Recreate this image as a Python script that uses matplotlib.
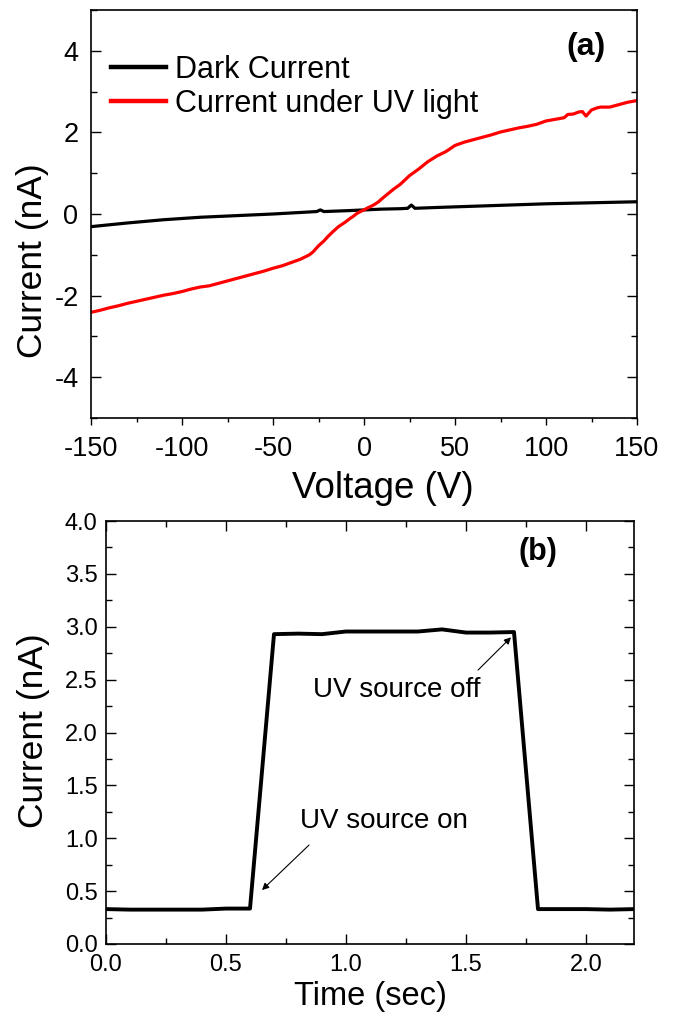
import matplotlib
matplotlib.use("Agg")
import matplotlib.pyplot as plt
from matplotlib.ticker import MultipleLocator, FormatStrFormatter

plt.rcParams['font.family'] = ['Liberation Sans', 'DejaVu Sans']
plt.rcParams['axes.unicode_minus'] = False

# ---- Panel (a) data: I-V curves ----
dark_v = [-150, -130, -110, -90, -70, -50, -30, -26, -24, -22, -10, 0, 10, 20, 24, 26, 28, 40, 60, 80, 100, 120, 140, 150]
dark_i = [-0.31, -0.22, -0.14, -0.08, -0.04, 0.0, 0.05, 0.06, 0.10, 0.06, 0.08, 0.10, 0.12, 0.13, 0.14, 0.22, 0.14, 0.16, 0.19, 0.22, 0.25, 0.27, 0.29, 0.30]

uv_v = [-150, -145, -140, -135, -130, -125, -120, -115, -110, -105, -100, -95, -90, -85, -80, -75, -70, -65,
        -60, -55, -50, -45, -40, -35, -30, -28, -25, -22, -20, -17, -14, -12, -10, -8, -6, -4, -2, 0,
        2, 4, 6, 8, 10, 13, 16, 20, 25, 30, 35, 40, 45, 50, 55, 60, 65, 70, 75, 80, 85, 90,
        95, 100, 105, 110, 112, 115, 118, 120, 122, 125, 128, 130, 135, 140, 145, 150]
uv_i = [-2.41, -2.36, -2.30, -2.25, -2.19, -2.14, -2.09, -2.04, -1.99, -1.95, -1.90, -1.84, -1.79, -1.76, -1.70, -1.64, -1.58, -1.52,
        -1.46, -1.40, -1.33, -1.27, -1.19, -1.11, -1.00, -0.93, -0.78, -0.66, -0.56, -0.43, -0.31, -0.25, -0.19, -0.12, -0.06, 0.01, 0.06, 0.10,
        0.15, 0.19, 0.24, 0.30, 0.38, 0.49, 0.60, 0.73, 0.94, 1.10, 1.28, 1.42, 1.53, 1.68, 1.76, 1.82, 1.88, 1.94, 2.01, 2.06, 2.11, 2.15,
        2.20, 2.28, 2.32, 2.36, 2.44, 2.45, 2.50, 2.51, 2.40, 2.55, 2.60, 2.62, 2.62, 2.68, 2.74, 2.78]

# ---- Panel (b) data: photoresponse ----
t = [0.0, 0.1, 0.2, 0.3, 0.4, 0.5, 0.6, 0.7, 0.8, 0.9, 1.0, 1.1, 1.2, 1.3, 1.4, 1.5, 1.6, 1.7, 1.8, 1.9, 2.0, 2.1, 2.2]
cur = [0.33, 0.325, 0.325, 0.325, 0.325, 0.335, 0.335, 2.93, 2.935, 2.93, 2.955, 2.955, 2.955, 2.955, 2.975, 2.945, 2.945, 2.95, 0.33, 0.33, 0.33, 0.325, 0.33]

W, H = 676, 1015
fig = plt.figure(figsize=(W / 100, H / 100), dpi=100)

# ---------------- (a) ----------------
axa = fig.add_axes([91/W, 1-418/H, (637-91)/W, (418-10)/H])
axa.plot(dark_v, dark_i, color='black', lw=2.3, label='Dark Current')
axa.plot(uv_v, uv_i, color='#ff0000', lw=2.3, label='Current under UV light')
axa.set_xlim(-150, 150)
axa.set_ylim(-5, 5)
axa.xaxis.set_major_locator(MultipleLocator(50))
axa.xaxis.set_minor_locator(MultipleLocator(25))
axa.yaxis.set_major_locator(MultipleLocator(2))
axa.yaxis.set_minor_locator(MultipleLocator(1))
axa.tick_params(axis='x', which='both', direction='out', top=False, labelsize=19.5, width=1.0)
axa.tick_params(axis='x', which='major', length=5, pad=8)
axa.tick_params(axis='x', which='minor', length=3)
axa.tick_params(axis='y', which='both', direction='in', left=True, right=True, labelsize=19.5, width=1.0)
axa.tick_params(axis='y', which='major', length=7, pad=9)
axa.tick_params(axis='y', which='minor', length=4)
for s in axa.spines.values():
    s.set_linewidth(1.2)
fig.text(383/W, 1-488/H, 'Voltage (V)', fontsize=26.5, ha='center', va='center')
fig.text(33/W, 1-261/H, 'Current (nA)', fontsize=25.5, ha='center', va='center', rotation=90)
leg = axa.legend(loc='upper left', bbox_to_anchor=(-0.008, 0.95), frameon=False, fontsize=22,
                 handlelength=1.8, handletextpad=0.3, labelspacing=0.12, borderaxespad=0.4)
for h in leg.get_lines():
    h.set_linewidth(3.2)
fig.text(586/W, 1-47/H, '(a)', fontsize=23, fontweight='bold', ha='center', va='center')

# ---------------- (b) ----------------
axb = fig.add_axes([106/W, 1-944/H, (634-106)/W, (944-521)/H])
axb.plot(t, cur, color='black', lw=2.8)
axb.set_xlim(0, 2.2)
axb.set_ylim(0, 4.0)
axb.xaxis.set_major_locator(MultipleLocator(0.5))
axb.xaxis.set_minor_locator(MultipleLocator(0.25))
axb.yaxis.set_major_locator(MultipleLocator(0.5))
axb.yaxis.set_minor_locator(MultipleLocator(0.25))
axb.xaxis.set_major_formatter(FormatStrFormatter('%.1f'))
axb.yaxis.set_major_formatter(FormatStrFormatter('%.1f'))
axb.tick_params(which='both', direction='in', top=True, right=True, labelsize=17, width=1.0)
axb.tick_params(which='major', length=7)
axb.tick_params(axis='x', which='major', pad=7)
axb.tick_params(axis='y', which='major', pad=6)
axb.tick_params(which='minor', length=4)
for s in axb.spines.values():
    s.set_linewidth(1.2)
fig.text(370/W, 1-997/H, 'Time (sec)', fontsize=23.5, ha='center', va='center')
fig.text(34/W, 1-731/H, 'Current (nA)', fontsize=25.5, ha='center', va='center', rotation=90)
fig.text(538/W, 1-552/H, '(b)', fontsize=22, fontweight='bold', ha='center', va='center')

axb.text(1.21, 2.40, 'UV source off', fontsize=20, ha='center', va='center')
axb.annotate('', xy=(1.6875, 2.90), xytext=(1.55, 2.59),
             arrowprops=dict(arrowstyle='-|>', lw=0.8, color='black', mutation_scale=10,
                             shrinkA=0, shrinkB=0))
axb.text(1.16, 1.16, 'UV source on', fontsize=20, ha='center', va='center')
axb.annotate('', xy=(0.65, 0.51), xytext=(0.846, 0.936),
             arrowprops=dict(arrowstyle='-|>', lw=0.8, color='black', mutation_scale=10,
                             shrinkA=0, shrinkB=0))

fig.savefig('out.png', dpi=100)
